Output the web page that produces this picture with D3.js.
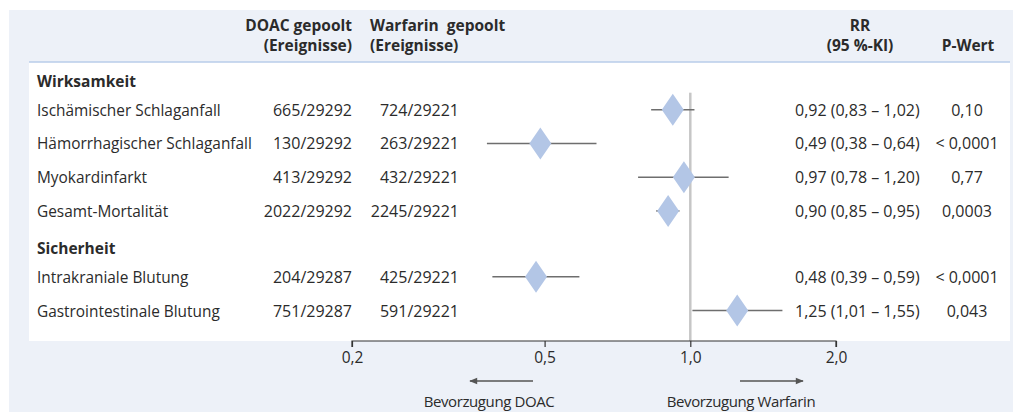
<!DOCTYPE html>
<html><head><meta charset="utf-8">
<script src="https://cdn.jsdelivr.net/npm/d3@7"></script>
<style>
html,body{margin:0;padding:0;background:#fff;}
svg text{font-family:"Open Sans",sans-serif;fill:#2b2b2b;}
</style></head>
<body><svg id="c" width="1016" height="412"></svg>
<script>
// ---- data ----
const sections = ["Wirksamkeit", "Sicherheit"];
const categories = ["Ischämischer Schlaganfall", "Hämorrhagischer Schlaganfall", "Myokardinfarkt", "Gesamt-Mortalität", "Intrakraniale Blutung", "Gastrointestinale Blutung"];
const sectionOf = [0, 0, 0, 0, 1, 1];
const doacEvents = [665, 130, 413, 2022, 204, 751];
const doacTotal = [29292, 29292, 29292, 29292, 29287, 29287];
const warfEvents = [724, 263, 432, 2245, 425, 591];
const warfTotal = [29221, 29221, 29221, 29221, 29221, 29221];
const rr = [0.92, 0.49, 0.97, 0.90, 0.48, 1.25];
const ciLow = [0.83, 0.38, 0.78, 0.85, 0.39, 1.01];
const ciHigh = [1.02, 0.64, 1.20, 0.95, 0.59, 1.55];
const pValues = ["0,10", "< 0,0001", "0,77", "0,0003", "< 0,0001", "0,043"];
const tickValues = [0.2, 0.5, 1.0, 2.0];
const colHeaders = {doac: ["DOAC gepoolt", "(Ereignisse)"], warf: ["Warfarin  gepoolt", "(Ereignisse)"], rr: ["RR", "(95 %-KI)"], p: ["P-Wert"]};
const favourLabels = ["Bevorzugung DOAC", "Bevorzugung Warfarin"];

// ---- setup ----
const de = d3.formatLocale({decimal: ",", thousands: "", grouping: [3], currency: ["", "€"]});
const f2 = de.format(".2f"), f1 = de.format(".1f");
const svg = d3.select("#c");

// panels
svg.append("rect").attr("x", 9).attr("y", 10).attr("width", 1004).attr("height", 402).attr("fill", "#edf1f8");
svg.append("rect").attr("x", 29).attr("y", 62).attr("width", 981).attr("height", 279).attr("fill", "#ffffff");
svg.append("line").attr("x1", 29).attr("x2", 1010).attr("y1", 62).attr("y2", 62).attr("stroke", "#b9cdea").attr("stroke-width", 1.5);

// row positions
const rows = [];
let p = 0;
sections.forEach((s, si) => {
  if (si > 0) p += 1.1;
  rows.push({type: "header", label: s, p: p});
  p += 0.85;
  let first = true;
  categories.forEach((c, i) => {
    if (sectionOf[i] !== si) return;
    if (!first) p += 1;
    first = false;
    rows.push({type: "row", i: i, label: c, p: p});
  });
});
const y = d3.scaleLinear().domain([0, p]).range([81, 310.5]);
const x = d3.scaleLog().domain([0.2, 2]).range([352, 836]);

const fs = 16, fl = 15.4;
const dataRows = rows.filter(r => r.type === "row");

// headers
const hdr = svg.append("g").style("font-weight", "bold").style("font-size", "15.5px");
hdr.selectAll("t1").data(colHeaders.doac).join("text").attr("x", 352).attr("y", (d, i) => 31 + i * 20).attr("text-anchor", "end").attr("xml:space", "preserve").text(d => d);
hdr.selectAll("t2").data(colHeaders.warf).join("text").attr("x", 370).attr("y", (d, i) => 31 + i * 20).attr("xml:space", "preserve").text(d => d);
hdr.selectAll("t3").data(colHeaders.rr).join("text").attr("x", 860).attr("y", (d, i) => 31 + i * 20).attr("text-anchor", "middle").text(d => d);
hdr.selectAll("t4").data(colHeaders.p).join("text").attr("x", 968).attr("y", 51).attr("text-anchor", "middle").text(d => d);

// section labels
svg.selectAll(".sec").data(rows.filter(r => r.type === "header")).join("text")
  .attr("x", 37).attr("y", d => y(d.p) + 6).style("font-weight", "bold").style("font-size", "15.5px").text(d => d.label);

// row texts
const g = svg.append("g").style("font-size", fs + "px");
g.selectAll(".lab").data(dataRows).join("text").attr("x", 37).attr("y", d => y(d.p) + 6).style("font-size", fl + "px").text(d => d.label);
g.selectAll(".doac").data(dataRows).join("text").attr("x", 352).attr("y", d => y(d.p) + 6).attr("text-anchor", "end")
  .text(d => doacEvents[d.i] + "/" + doacTotal[d.i]);
g.selectAll(".warf").data(dataRows).join("text").attr("x", 459).attr("y", d => y(d.p) + 6).attr("text-anchor", "end")
  .text(d => warfEvents[d.i] + "/" + warfTotal[d.i]);
g.selectAll(".rr").data(dataRows).join("text").attr("x", 795).attr("y", d => y(d.p) + 6)
  .text(d => f2(rr[d.i]) + " (" + f2(ciLow[d.i]) + " – " + f2(ciHigh[d.i]) + ")");
g.selectAll(".pv").data(dataRows).join("text").attr("x", 967).attr("y", d => y(d.p) + 6).attr("text-anchor", "middle")
  .text(d => pValues[d.i]);

// reference line at 1
const axisY = 341;
svg.append("line").attr("x1", x(1)).attr("x2", x(1)).attr("y1", y(dataRows[0].p) - 17).attr("y2", axisY)
  .attr("stroke", "#c6c6c6").attr("stroke-width", 2.5);

// CI lines
svg.selectAll(".ci").data(dataRows).join("line")
  .attr("x1", d => x(ciLow[d.i])).attr("x2", d => x(ciHigh[d.i]))
  .attr("y1", d => y(d.p)).attr("y2", d => y(d.p))
  .attr("stroke", "#6e6e6e").attr("stroke-width", 1.4);

// diamonds
const hw = 11, hh = 16;
svg.selectAll(".dm").data(dataRows).join("path")
  .attr("d", d => { const cx = x(rr[d.i]), cy = y(d.p); return `M${cx - hw},${cy}L${cx},${cy - hh}L${cx + hw},${cy}L${cx},${cy + hh}Z`; })
  .attr("fill", "#b3c6e6");

// axis
const axis = d3.axisBottom(x).tickValues(tickValues).tickFormat(f1).tickSize(6).tickPadding(5);
const ag = svg.append("g").attr("transform", `translate(0,${axisY})`).call(axis);
ag.attr("font-family", null).attr("font-size", null);
ag.select(".domain").attr("stroke", "#333").attr("stroke-width", 1.2).attr("d", `M${x(0.2)},6V0H${x(2)}V6`);
ag.selectAll(".tick line").attr("stroke", "#333").attr("stroke-width", 1.2);
ag.selectAll(".tick text").style("font-size", "15.5px").attr("fill", "#2b2b2b");

// arrows
const defs = svg.append("defs");
defs.append("marker").attr("id", "ah").attr("viewBox", "0 0 10 10").attr("refX", 9).attr("refY", 5)
  .attr("markerWidth", 10).attr("markerHeight", 8).attr("markerUnits", "userSpaceOnUse").attr("orient", "auto")
  .append("path").attr("d", "M0,1L10,5L0,9Z").attr("fill", "#555");
svg.append("line").attr("x1", 533).attr("x2", 470).attr("y1", 381).attr("y2", 381).attr("stroke", "#555").attr("stroke-width", 1.3).attr("marker-end", "url(#ah)");
svg.append("line").attr("x1", 740).attr("x2", 803).attr("y1", 381).attr("y2", 381).attr("stroke", "#555").attr("stroke-width", 1.3).attr("marker-end", "url(#ah)");

svg.selectAll(".fav").data(favourLabels).join("text")
  .attr("x", (d, i) => i === 0 ? 489 : 741).attr("y", 407).attr("text-anchor", "middle")
  .style("font-size", "15px").style("letter-spacing", "-0.4px").text(d => d);
</script></body></html>
